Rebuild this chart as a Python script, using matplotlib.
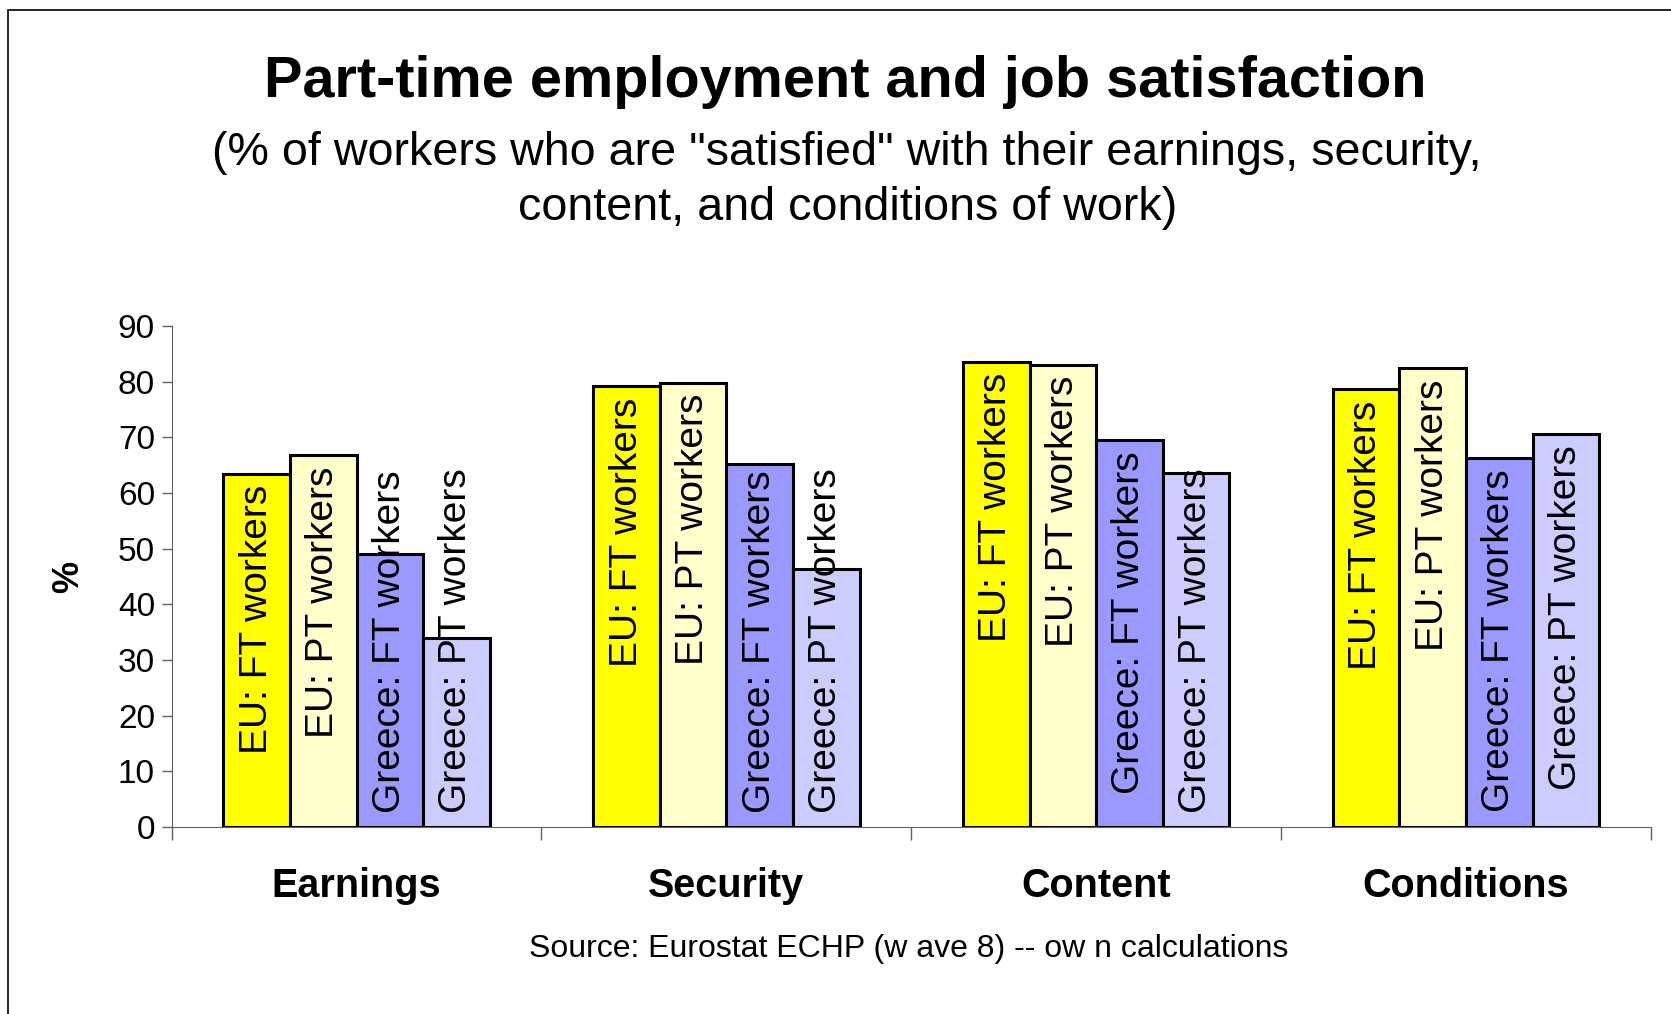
import numpy as np
import matplotlib.pyplot as plt
from matplotlib.patches import Rectangle
import matplotlib.transforms as mtransforms

plt.rcParams['font.family'] = ['Liberation Sans', 'DejaVu Sans']

categories = ['Earnings', 'Security', 'Content', 'Conditions']
series = ['EU: FT workers', 'EU: PT workers', 'Greece: FT workers', 'Greece: PT workers']
eu_ft = [63.5, 79.2, 83.6, 78.6]
eu_pt = [66.8, 79.8, 83.0, 82.4]
gr_ft = [49.0, 65.2, 69.5, 66.3]
gr_pt = [33.9, 46.3, 63.6, 70.6]
colors = ['#FFFF00', '#FFFFCC', '#9999FF', '#CCCCFF']
yticks = [0, 10, 20, 30, 40, 50, 60, 70, 80, 90]

fig = plt.figure(figsize=(16.71, 10.14), dpi=100)
ax = fig.add_axes([0.1027, 0.1844, 0.8853, 0.4941])

x = np.arange(len(categories))
bar_width = 0.18
offsets = [-0.27, -0.09, 0.09, 0.27]

labels = []
for vals, name, col, off in zip([eu_ft, eu_pt, gr_ft, gr_pt], series, colors, offsets):
    ax.bar(x + off, vals, bar_width, color=col, edgecolor='black', linewidth=2.2, zorder=2)
    for xi, v in zip(x + off, vals):
        t = ax.text(xi, v - 2.0, name, rotation=90, ha='center', va='top',
                    fontsize=28, zorder=3)
        labels.append(t)

ax.set_xlim(-0.5, 3.5)
ax.set_ylim(0, 90)

# push labels that overflow the bar back up from the baseline
fig.canvas.draw()
inv = ax.transData.inverted()
for t in labels:
    bb = t.get_window_extent()
    y0 = inv.transform((bb.x0, bb.y0))[1]
    if y0 < 2.5:
        t.set_va('bottom')
        t.set_y(2.5)

ax.set_yticks(yticks)
ax.tick_params(axis='y', labelsize=24, length=7, width=1, color='#606060', pad=5)
ax.set_xticks(np.arange(-0.5, 4, 1.0))
ax.set_xticklabels([])
ax.tick_params(axis='x', direction='out', length=9, width=1, color='#606060')

for s in ['top', 'right']:
    ax.spines[s].set_visible(False)
ax.spines['left'].set_color('#606060')
ax.spines['bottom'].set_color('#606060')

trans = mtransforms.blended_transform_factory(ax.transData, ax.transAxes)
for xi, c in zip(x, categories):
    ax.text(xi, -0.117, c, transform=trans, ha='center', va='center',
            fontsize=28.5, fontweight='bold')

ax.set_ylabel('%', fontsize=26, fontweight='bold')
ax.yaxis.set_label_coords(-0.058, 0.5)

fig.text(0.506, 0.919, 'Part-time employment and job satisfaction',
         ha='center', va='center', fontsize=41.5, fontweight='bold')
fig.text(0.507, 0.822,
         '(% of workers who are "satisfied" with their earnings, security,\n'
         'content, and conditions of work)',
         ha='center', va='center', fontsize=33.6, linespacing=1.35)
fig.text(0.544, 0.064, 'Source: Eurostat ECHP (w ave 8) -- ow n calculations',
         ha='center', va='center', fontsize=23)

fig.add_artist(Rectangle((0.0046, -0.1), 1.2, 1.1 - 0.0094, transform=fig.transFigure,
                         fill=False, edgecolor='black', linewidth=1.2, clip_on=False))

fig.savefig('out.png', dpi=100)
